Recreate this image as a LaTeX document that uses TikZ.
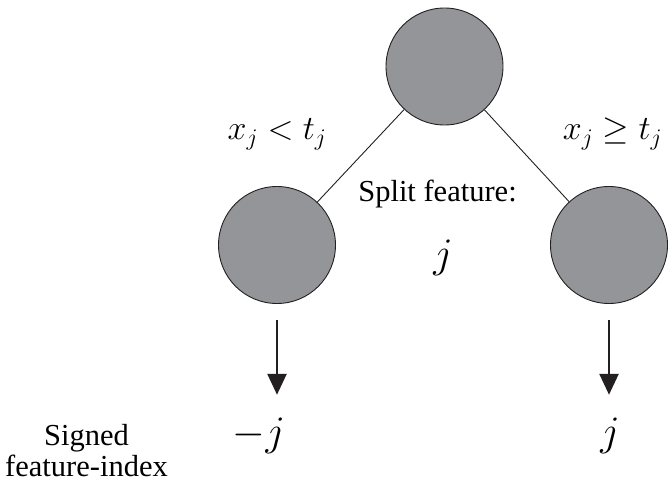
\RequirePackage{fix-cm}
\documentclass[tikz,border=0pt]{standalone}
\usepackage{fontspec}
\setmainfont{Liberation Serif}
\usetikzlibrary{arrows.meta}
\definecolor{nodegray}{RGB}{147,149,152}
\definecolor{inkdark}{RGB}{35,31,32}
\tikzset{
  treenode/.style={circle, draw=inkdark, line width=0.9pt, fill=nodegray, minimum size=117pt, inner sep=0pt},
  edgeline/.style={draw=inkdark, line width=0.9pt},
  downarrow/.style={draw=inkdark, line width=2.6pt, -{Triangle[length=21pt,width=19pt]}},
  txt/.style={inner sep=0pt, font=\fontsize{30.5}{31.5}\selectfont},
  mlabel/.style={inner sep=0pt, font=\fontsize{34}{40}\selectfont},
  bigj/.style={inner sep=0pt, font=\fontsize{42}{48}\selectfont},
}
\begin{document}
\begin{tikzpicture}[x=1pt,y=-1pt]
\useasboundingbox (0,0) rectangle (668,481);
\node[treenode] (T) at (444.5,66.5) {};
\node[treenode] (L) at (277,245) {};
\node[treenode] (R) at (609,245) {};
\draw[edgeline] (T) -- (L);
\draw[edgeline] (T) -- (R);
\node[mlabel, anchor=base] (lt) at (277,140) {$x_j < t_j$};
\node[mlabel, anchor=base] (rt) at (612.5,140) {$x_j \geq t_j$};
\node[txt, anchor=base] (split) at (437.5,201.7) {Split feature:};
\node[bigj, anchor=base] (mj) at (443,267) {$j$};
\node[bigj, anchor=base] (lj) at (259,445) {$-j$};
\node[bigj, anchor=base] (rj) at (610,445) {$j$};
\node[txt, anchor=base, align=center] (sg) at (86.5,476.5) {Signed\\feature-index};
\draw[downarrow] ([yshift=-16.5pt]L.south) -- ([yshift=22.5pt]L.south |- lj.north);
\draw[downarrow] ([yshift=-16.5pt]R.south) -- ([yshift=22.5pt]R.south |- rj.north);
\end{tikzpicture}
\end{document}
